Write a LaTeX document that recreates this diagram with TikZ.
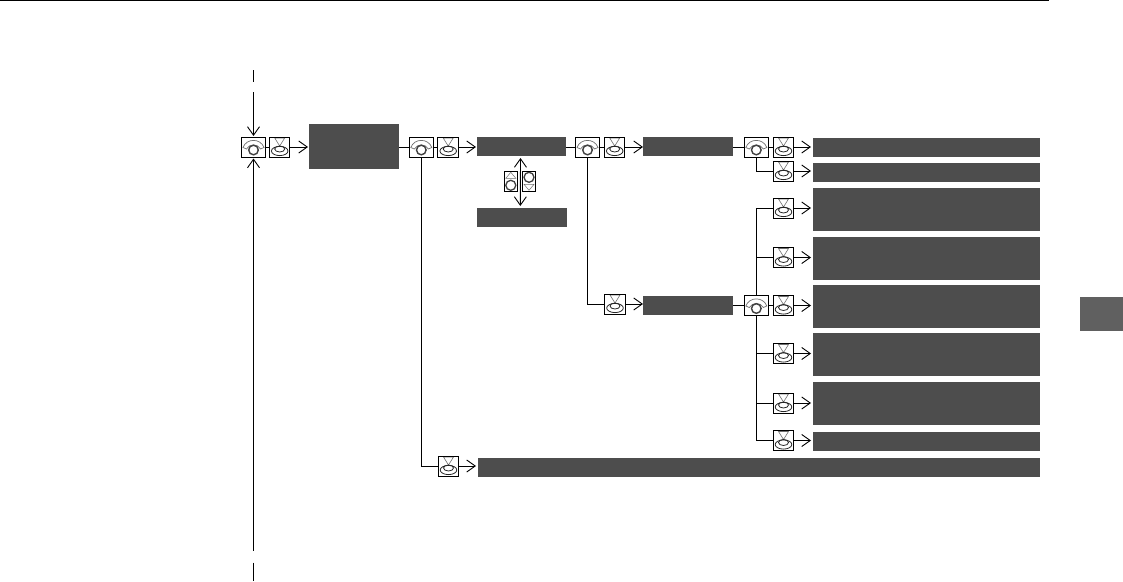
\documentclass[tikz,border=0pt]{standalone}
\usetikzlibrary{arrows.meta}
\definecolor{paneldark}{HTML}{4D4D4D}
\definecolor{tabgrey}{HTML}{606060}
\definecolor{icongrey}{HTML}{707070}
\begin{document}
\begin{tikzpicture}[
    x=1pt, y=-1pt,
    conn/.style={line width=0.9pt},
    arrow/.style={conn, -{Straight Barb[length=8.5pt,width=12pt,line width=0.9pt]}},
    biarrow/.style={conn, {Straight Barb[length=8.5pt,width=12pt,line width=0.9pt]}-{Straight Barb[length=8.5pt,width=12pt,line width=0.9pt]}},
    panel/.style={fill=paneldark, inner sep=0pt, outer sep=0pt, minimum height=19pt},
    smallpanel/.style={panel, minimum width=90pt},
    rowpanel/.style={panel, minimum width=227pt},
    tallpanel/.style={rowpanel, minimum height=43pt},
    iconbox/.style={draw, line width=1pt, fill=white, inner sep=0pt, outer sep=0pt, minimum height=20pt},
    dialbox/.style={iconbox, minimum width=24.5pt, path picture={
        \begin{scope}[shift={(path picture bounding box.center)}]
        \draw[icongrey, line width=0.7pt] (-10.5,0.5) .. controls (-7,-9) and (7,-9) .. (10.5,0.5)
            -- (7,2) .. controls (4,-3.5) and (-4,-3.5) .. (-7,2) -- cycle;
        \draw[black!75, line width=1.4pt] (0,3) circle[radius=4.8pt];
        \end{scope}}},
    pressbox/.style={iconbox, minimum width=20.5pt, path picture={
        \begin{scope}[shift={(path picture bounding box.center)}]
        \draw[icongrey, line width=0.6pt] (-5,-9) -- (5,-9) -- (0,-1) -- cycle;
        \draw[black!85, line width=0.8pt] (0,4) ellipse[x radius=8.3pt, y radius=4.6pt];
        \draw[black!85, line width=0.8pt] (0,2) ellipse[x radius=5pt, y radius=3pt];
        \end{scope}}},
    upbox/.style={iconbox, minimum width=13pt, path picture={
        \begin{scope}[shift={(path picture bounding box.center)}]
        \draw[icongrey, line width=0.5pt] (-5,-3) -- (5,-3) -- (0,-9) -- cycle;
        \draw[black!75, line width=1.3pt] (0,4) circle[radius=5pt];
        \end{scope}}},
    downbox/.style={iconbox, minimum width=13pt, path picture={
        \begin{scope}[shift={(path picture bounding box.center)}]
        \draw[icongrey, line width=0.5pt] (-5,3) -- (5,3) -- (0,9) -- cycle;
        \draw[black!75, line width=1.3pt] (0,-4) circle[radius=5pt];
        \end{scope}}},
    ]
    \useasboundingbox (0,0) rectangle (1123,581);

    \coordinate (ruleleft) at (0,0.6);
    \coordinate (ruleright) at (1049,0.6);
    \draw[line width=1.2pt] (ruleleft) -- (ruleright);
    \fill[tabgrey] (1080,297) rectangle (1123,331);

    \node[dialbox] (dialmain) at (253.5,147) {};
    \node[pressbox] (pressmain) at (279.7,147) {};
    \node[panel, minimum width=90pt, minimum height=45pt] (topmenu) at (354,146.5) {};

    \node[dialbox] (dialsub) at (421.3,147) {};
    \node[pressbox] (presssub) at (448.2,147) {};
    \node[panel, minimum width=89pt] (submenu) at (521.5,146.5) {};
    \node[smallpanel] (altmenu) at (522,217.5) {};
    \node[upbox] (swapup) at (510.8,181.3) {};
    \node[downbox] (swapdown) at (529,181.3) {};

    \node[dialbox] (dialitem) at (587.5,147) {};
    \node[pressbox] (pressitem) at (614.7,147) {};
    \node[smallpanel] (itema) at (688,146.5) {};
    \node[pressbox] (pressother) at (615,304) {};
    \node[smallpanel] (itemb) at (688,305.5) {};

    \node[dialbox] (dialupper) at (756.3,147) {};
    \node[pressbox] (pressa) at (783.5,147) {};
    \node[rowpanel] (rowa) at (926.5,147.3) {};
    \node[pressbox] (pressb) at (783.5,171) {};
    \node[rowpanel] (rowb) at (926.5,172.5) {};

    \node[dialbox] (diallower) at (756.3,305.5) {};
    \node[pressbox] (pressc) at (783.5,208) {};
    \node[tallpanel] (rowc) at (926.5,209.5) {};
    \node[pressbox] (pressd) at (783.5,257.5) {};
    \node[tallpanel] (rowd) at (926.5,258) {};
    \node[pressbox] (presse) at (783.5,305.5) {};
    \node[tallpanel] (rowe) at (926.5,306.5) {};
    \node[pressbox] (pressf) at (783.5,353.5) {};
    \node[tallpanel] (rowf) at (926.5,354.5) {};
    \node[pressbox] (pressg) at (783.5,403) {};
    \node[tallpanel] (rowg) at (926.5,403.5) {};
    \node[pressbox] (pressh) at (783.5,440.5) {};
    \node[rowpanel] (rowh) at (926.5,441.5) {};

    \node[pressbox] (pressend) at (448.5,466) {};
    \node[panel, minimum width=562pt] (rowend) at (759,467.5) {};

    \coordinate (entrya) at (253.5,70);
    \coordinate (entryb) at (253.5,82);
    \coordinate (entryc) at (253.5,92);
    \coordinate (returna) at (253.5,550.5);
    \coordinate (returnb) at (253.5,562.5);
    \coordinate (returnc) at (253.5,581);

    \draw[conn] (entrya) -- (entryb);
    \draw[arrow, shorten >=1pt] (entryc) -- (dialmain);
    \draw[arrow, shorten >=1.5pt] (returna) -- (dialmain);
    \draw[conn] (returnb) -- (returnc);

    \draw[conn] (dialmain) -- (pressmain);
    \draw[arrow, shorten >=1pt] (pressmain) -- (pressmain -| topmenu.west);
    \draw[conn] (topmenu.east |- dialsub) -- (dialsub);
    \draw[conn] (dialsub) -- (presssub);
    \draw[arrow, shorten >=1pt] (presssub) -- (presssub -| submenu.west);
    \draw[conn] (submenu.east |- dialitem) -- (dialitem);
    \draw[conn] (dialitem) -- (pressitem);
    \draw[arrow] (pressitem) -- (pressitem -| itema.west);
    \draw[conn] (itema.east |- dialupper) -- (dialupper);
    \draw[conn] (dialupper) -- (pressa);
    \draw[biarrow, shorten <=2pt, shorten >=2pt] ([xshift=-1pt]submenu.south) -- ([xshift=-1.7pt]altmenu.north);

    \draw[conn] (dialsub.south) |- (pressend.west);
    \draw[arrow, shorten >=2pt] (pressend.east) -- (pressend.east -| rowend.west);
    \draw[conn] (dialitem.south) |- (pressother.west);
    \draw[arrow] (pressother.east) -- (pressother.east -| itemb.west);
    \draw[conn] (itemb.east |- diallower) -- (diallower);
    \draw[conn] (diallower) -- (presse);
    \draw[conn] (dialupper.south) |- (pressb.west);
    \draw[conn] (diallower.north) |- (pressc.west);
    \draw[conn] (diallower.north) |- (pressd.west);
    \draw[conn] (diallower.south) |- (pressf.west);
    \draw[conn] (diallower.south) |- (pressg.west);
    \draw[conn] (diallower.south) |- (pressh.west);

    \draw[arrow, shorten >=2pt] (pressa.east) -- (pressa.east -| rowa.west);
    \draw[arrow, shorten >=2pt] (pressb.east) -- (pressb.east -| rowb.west);
    \draw[arrow, shorten >=2pt] (pressc.east) -- (pressc.east -| rowc.west);
    \draw[arrow, shorten >=2pt] (pressd.east) -- (pressd.east -| rowd.west);
    \draw[arrow, shorten >=2pt] (presse.east) -- (presse.east -| rowe.west);
    \draw[arrow, shorten >=2pt] (pressf.east) -- (pressf.east -| rowf.west);
    \draw[arrow, shorten >=2pt] (pressg.east) -- (pressg.east -| rowg.west);
    \draw[arrow, shorten >=2pt] (pressh.east) -- (pressh.east -| rowh.west);
\end{tikzpicture}
\end{document}
